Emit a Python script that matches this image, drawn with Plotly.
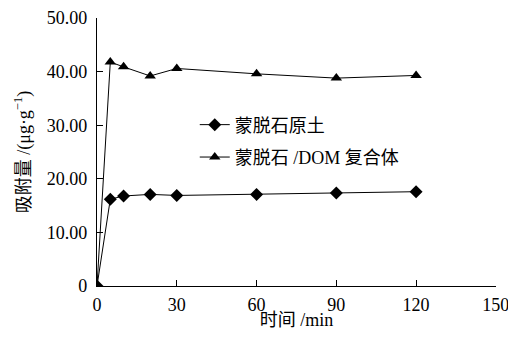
import plotly.graph_objects as go

time_min = [0, 5, 10, 20, 30, 60, 90, 120]
raw_clay = [0, 16.2, 16.8, 17.1, 16.9, 17.1, 17.35, 17.6]
clay_dom = [0, 41.8, 40.9, 39.2, 40.6, 39.6, 38.8, 39.3]
series_names = ["蒙脱石原土", "蒙脱石 /DOM 复合体"]
y_ticks = [0, 10, 20, 30, 40, 50]
y_tick_labels = ["0", "10.00", "20.00", "30.00", "40.00", "50.00"]
x_ticks = [0, 30, 60, 90, 120, 150]

font_fam = "Liberation Serif, Noto Sans CJK SC, serif"

fig = go.Figure()
fig.add_trace(go.Scatter(x=time_min, y=raw_clay, name=series_names[0], mode="lines+markers",
                         legendgroup="a",
                         line=dict(color="black", width=1),
                         marker=dict(symbol="diamond", size=10, color="black")))
fig.add_trace(go.Scatter(x=time_min, y=clay_dom, name=series_names[1], mode="lines+markers",
                         legendgroup="b",
                         line=dict(color="black", width=1),
                         marker=dict(symbol="triangle-up", size=10, color="black")))

# page body has an 8px default margin; keep the figure inside the window (no scrollbars)
fig.update_layout(
    width=500, height=322,
    margin=dict(l=89, r=12, t=10, b=44),
    paper_bgcolor="white", plot_bgcolor="white",
    font=dict(family=font_fam, size=18, color="black"),
    showlegend=True,
    legend=dict(x=0.245, y=0.67, xanchor="left", yanchor="top", bgcolor="rgba(0,0,0,0)",
                font=dict(size=18), tracegroupgap=6, itemwidth=30),
    xaxis=dict(range=[0, 150.05], tickvals=x_ticks, ticks="inside", ticklen=6, tickcolor="black",
               showline=True, linecolor="black", linewidth=1.2, showgrid=False, zeroline=False,
               automargin=False, ticklabelstandoff=2, tickfont=dict(size=18),
               ticklabeloverflow="allow",
               title=dict(text="时间 /min", standoff=0, font=dict(size=18))),
    yaxis=dict(range=[0, 50.02], tickvals=y_ticks, ticktext=y_tick_labels, ticks="inside", ticklen=6,
               tickcolor="black", showline=True, linecolor="black", linewidth=1.2, showgrid=False,
               zeroline=False, automargin=False, ticklabelstandoff=5, tickfont=dict(size=18),
               ticklabeloverflow="allow",
               title=dict(text="吸附量 /(μg·g<sup>−1</sup>)", standoff=11, font=dict(size=18))),
)

fig.write_html("out.html")
